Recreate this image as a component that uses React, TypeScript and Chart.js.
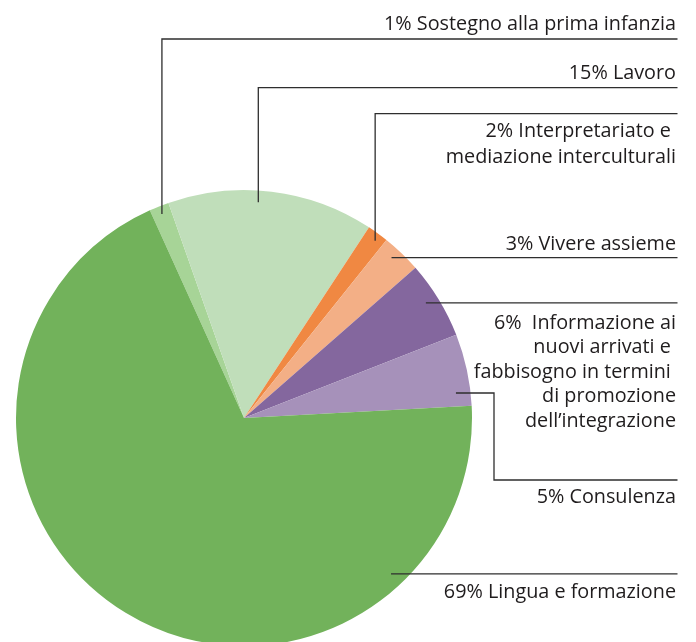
import React, { useEffect, useRef } from "react";
import { Chart, registerables } from "chart.js";

Chart.register(...registerables);

const categories = [
  "Sostegno alla prima infanzia",
  "Lavoro",
  "Interpretariato e mediazione interculturali",
  "Vivere assieme",
  "Informazione ai nuovi arrivati e fabbisogno in termini di promozione dell'integrazione",
  "Consulenza",
  "Lingua e formazione",
];
const values = [1.4, 14.6, 1.5, 2.8, 5.5, 5.1, 69.0];
const colors = ["#A7D497", "#C0DEBA", "#F08842", "#F3AF86", "#84679E", "#A691BA", "#72B25B"];
const labelLines = [
  ["1% Sostegno alla prima infanzia"],
  ["15% Lavoro"],
  ["2% Interpretariato e ", "mediazione interculturali"],
  ["3% Vivere assieme"],
  ["6%  Informazione ai", "nuovi arrivati e ", "fabbisogno in termini ", "di promozione", "dell\u2019integrazione"],
  ["5% Consulenza"],
  ["69% Lingua e formazione"],
];

// leader layout (style/positions, not data)
const leaders = [
  { kind: "up", frac: 0.49, rf: 0.964, lineY: 39, base: 30, lh: 24.4 },
  { kind: "up", frac: 0.44, rf: 0.948, lineY: 87.7, base: 79.3, lh: 24.4 },
  { kind: "up", frac: 0.6, rf: 0.967, lineY: 113.7, base: 136.7, lh: 26.5 },
  { kind: "flat", frac: 0.39, rf: 0.956, lineY: 0, base: 250, lh: 24.4 },
  { kind: "flat", frac: 0.45, rf: 0.944, lineY: 0, base: 329, lh: 24.4 },
  { kind: "elbow", frac: 0.8, rf: 0.936, lineY: 480, base: 503.3, lh: 24.4, elbowX: 494 },
  { kind: "flat", frac: 0.2, rf: 0.94, lineY: 0, base: 598.3, lh: 24.4 },
];

const X_END = 677.5;
const TEXT_RIGHT = 676;

const leaderPlugin = {
  id: "leaders",
  afterDatasetsDraw(chart: any) {
    const ctx = chart.ctx;
    const meta = chart.getDatasetMeta(0);
    ctx.save();
    meta.data.forEach((arc: any, i: number) => {
      const L = leaders[i];
      if (!L) return;
      const { x, y, startAngle, endAngle, outerRadius } = arc.getProps(
        ["x", "y", "startAngle", "endAngle", "outerRadius"],
        true
      );
      const a = startAngle + (endAngle - startAngle) * L.frac;
      const r = outerRadius * L.rf;
      const ax = x + Math.cos(a) * r;
      const ay = y + Math.sin(a) * r;
      ctx.strokeStyle = "#2e2e2e";
      ctx.lineWidth = 1.3;
      ctx.beginPath();
      ctx.moveTo(ax, ay);
      if (L.kind === "up") {
        ctx.lineTo(ax, L.lineY);
        ctx.lineTo(X_END, L.lineY);
      } else if (L.kind === "flat") {
        ctx.lineTo(X_END, ay);
      } else {
        ctx.lineTo(L.elbowX as number, ay);
        ctx.lineTo(L.elbowX as number, L.lineY);
        ctx.lineTo(X_END, L.lineY);
      }
      ctx.stroke();
    });
    ctx.fillStyle = "#1f1c1d";
    ctx.font = "19.8px 'Open Sans'";
    ctx.textAlign = "right";
    ctx.textBaseline = "alphabetic";
    labelLines.forEach((lines, i) => {
      const L = leaders[i];
      lines.forEach((t, j) => {
        ctx.fillText(t, TEXT_RIGHT, L.base + j * L.lh);
      });
    });
    ctx.restore();
  },
};

export default function App() {
  const ref = useRef<HTMLCanvasElement>(null);
  useEffect(() => {
    document.body.style.margin = "0";
    const chart = new Chart(ref.current as HTMLCanvasElement, {
      type: "pie",
      data: {
        labels: categories,
        datasets: [
          {
            data: values,
            backgroundColor: colors,
            borderWidth: 0,
          },
        ],
      },
      options: {
        animation: false,
        responsive: false,
        devicePixelRatio: 1,
        rotation: -24.4,
        layout: { padding: { left: 16, top: 190, right: 224, bottom: 54 } },
        plugins: {
          legend: { display: false },
          tooltip: { enabled: false },
        },
      },
      plugins: [leaderPlugin],
    });
    return () => chart.destroy();
  }, []);
  return (
    <div style={{ position: "absolute", left: 0, top: 0, width: 696, height: 642, overflow: "hidden", background: "#fff" }}>
      <canvas ref={ref} width={696} height={700} style={{ width: 696, height: 700, display: "block" }} />
    </div>
  );
}
